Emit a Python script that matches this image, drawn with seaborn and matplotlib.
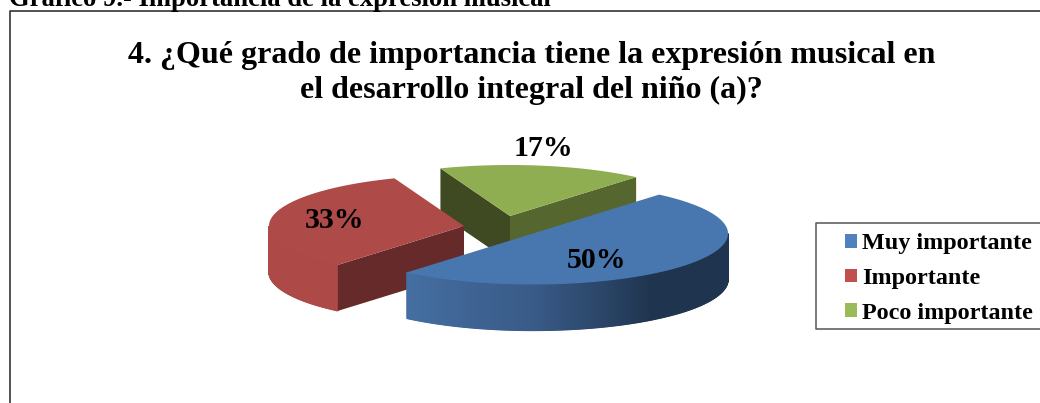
import numpy as np
import matplotlib as mtl
mtl.use('Agg')
import matplotlib.pyplot as plt
from matplotlib.patches import Patch
import seaborn as sns

# data
categories = ["Muy importante", "Importante", "Poco importante"]
shares = [50, 33, 17]
top_colors = ["#4877AF", "#AE4A48", "#8FAE52"]
legend_colors = ["#4F81BD", "#C0504D", "#9BBB59"]
header = "Gráfico 9.- Importancia de la expresión musical"
title_lines = ["4. ¿Qué grado de importancia tiene la expresión musical en",
               "el desarrollo integral del niño (a)?"]

sns.set_theme(style="white")
plt.rcParams['font.family'] = ['Liberation Serif', 'DejaVu Serif']

# pie geometry, in picture pixels
RX, RY, DEPTH = 195.0, 51.0, 46.0
START = 49.7
CENTERS = [(533, 233.5), (464, 226), (510, 216)]


def rim(c, deg):
    t = np.radians(deg)
    return c[0] + RX * np.cos(t), c[1] - RY * np.sin(t)


def top_face(ax, c, a0, a1, color, z):
    t = np.linspace(a0, a1, 200)
    x, y = rim(c, t)
    ax.fill(np.r_[c[0], x], np.r_[c[1], y], color=color, lw=0, zorder=z)


def flat_side(ax, c, deg, color, z):
    x, y = rim(c, deg)
    ax.fill([c[0], x, x, c[0]], [c[1], y, y + DEPTH, c[1] + DEPTH],
            color=color, lw=0, zorder=z)


def round_side(ax, c, a0, a1, col0, col1, z):
    # side of the slice, shaded step by step along the rim
    c0 = np.array(mtl.colors.to_rgb(col0))
    c1 = np.array(mtl.colors.to_rgb(col1))
    steps = np.linspace(a0, a1, 120)
    for i in range(len(steps) - 1):
        x, y = rim(c, steps[i:i + 2])
        f = i / (len(steps) - 2)
        ax.fill(np.r_[x, x[::-1]], np.r_[y, y[::-1] + DEPTH],
                color=c0 + (c1 - c0) * f, lw=0.9, zorder=z)


fig = plt.figure(figsize=(10.4, 4.03), dpi=100)
ax = fig.add_axes([0, 0, 1, 1])
ax.set_xlim(0, 1040)
ax.set_ylim(403, 0)
ax.axis("off")

# slice angles come from the shares, going clockwise
sweep = np.array(shares) / sum(shares) * 360
ends = START - np.cumsum(sweep)
starts = np.r_[START, ends[:-1]]

# green (back)
top_face(ax, CENTERS[2], starts[2], ends[2], top_colors[2], 3)
flat_side(ax, CENTERS[2], starts[2], "#3F4A22", 2)
flat_side(ax, CENTERS[2], ends[2], "#55662F", 2)

# red
round_side(ax, CENTERS[1], -180, starts[1], "#AD4947", "#AD4947", 4)
flat_side(ax, CENTERS[1], starts[1], "#652A29", 4)
top_face(ax, CENTERS[1], starts[1], ends[1], top_colors[1], 5)

# blue (front)
round_side(ax, CENTERS[0], ends[0], -90, "#456FA2", "#395B88", 6)
round_side(ax, CENTERS[0], -90, -52, "#395B88", "#1F344E", 6)
round_side(ax, CENTERS[0], -52, 0, "#1F344E", "#1F344E", 6)
top_face(ax, CENTERS[0], starts[0], ends[0], top_colors[0], 7)

# percentages
label_pos = [(597, 260), (334, 220), (543, 148)]
for s, p in zip(shares, label_pos):
    ax.text(p[0], p[1], "%d%%" % s, fontsize=21.5, fontweight="bold",
            color="black", ha="center", va="center", zorder=10)

# chart frame and header
ax.plot([9.5, 9.5, 1040], [403, 10.5, 10.5], color="#222222", lw=1.1, zorder=1)
ax.text(9, 6, header, fontsize=19.2, fontweight="bold", ha="left", va="baseline", color="black")
ax.text(531.5, 55, title_lines[0], fontsize=23, fontweight="bold", ha="center", va="center", color="black")
ax.text(531, 90, title_lines[1], fontsize=23, fontweight="bold", ha="center", va="center", color="black")

# legend box runs off the right edge of the picture
ax.plot([1040, 815.5, 815.5, 1040], [223, 223, 329, 329], color="#555555", lw=1.1, zorder=11)
handles = [Patch(facecolor=c, edgecolor="none") for c in legend_colors]
leg = ax.legend(handles, categories, loc="upper left", bbox_to_anchor=(845 / 1040, 1 - 233.5 / 403),
                frameon=False, borderaxespad=0, borderpad=0, labelcolor="black",
                prop={"family": "Liberation Serif", "weight": "bold", "size": 17.4},
                handlelength=0.5, handleheight=0.5, handletextpad=0.2, labelspacing=0.56)
leg.set_zorder(12)

fig.savefig("out.png", dpi=100)
